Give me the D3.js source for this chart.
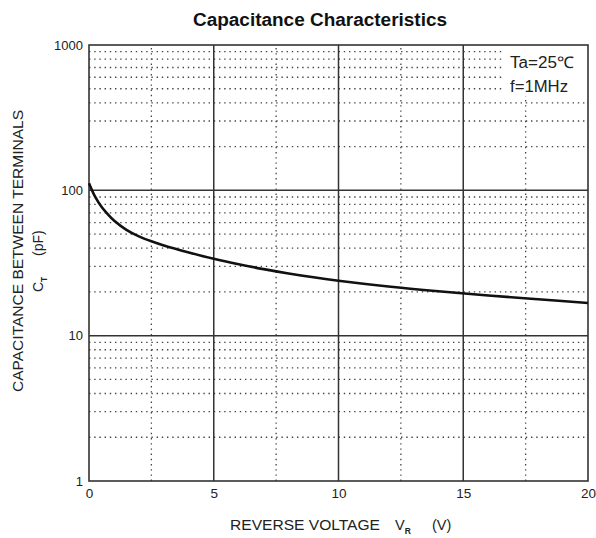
<!DOCTYPE html>
<html><head><meta charset="utf-8">
<script src="https://cdn.jsdelivr.net/npm/d3@7"></script>
<style>body{margin:0;background:#fff}svg{display:block;font-family:"Liberation Sans",Arial,sans-serif}</style>
</head><body><svg id="c" width="596" height="538"></svg>
<script>
const voltage = [0, 0.25, 0.5, 0.75, 1, 1.5, 2, 2.5, 3, 4, 5, 6, 7, 8, 9, 10, 12, 14, 16, 18, 20];
const capacitance = [112, 90, 77, 68.5, 62, 53.5, 48.2, 44.6, 41.8, 37.4, 33.8, 31, 28.7, 26.8, 25.2, 23.9, 21.8, 20.2, 18.9, 17.8, 16.8];
const xMajor = [0, 5, 10, 15, 20];
const xMinor = [2.5, 7.5, 12.5, 17.5];
const yMajor = [1, 10, 100, 1000];
const yMinorMult = [2, 3, 4, 5, 6, 7, 8, 9];
const title = "Capacitance Characteristics";
const legendLines = ["Ta=25\u2103", "f=1MHz"];

const svg = d3.select("#c");
const x = d3.scaleLinear().domain([0, 20]).range([89, 588]);
const y = d3.scaleLog().domain([1, 1000]).range([481, 45]);
const [x0, x1] = x.range(), [y0, y1] = y.range();

const yMinor = [];
[1, 10, 100].forEach(d => yMinorMult.forEach(m => yMinor.push(d * m)));
const g = svg.append("g");
g.selectAll(".hm").data(yMinor).join("line")
  .attr("x1", x0).attr("x2", x1).attr("y1", d => y(d)).attr("y2", d => y(d))
  .attr("stroke", "#444").attr("stroke-width", 1.3).attr("stroke-dasharray", "1.4 3.8");
g.selectAll(".vm").data(xMinor).join("line")
  .attr("x1", d => x(d)).attr("x2", d => x(d)).attr("y1", y0).attr("y2", y1)
  .attr("stroke", "#444").attr("stroke-width", 1.3).attr("stroke-dasharray", "1.4 3.8");

// white box behind legend
svg.append("rect").attr("x", x(16.55)).attr("y", y1 + 1).attr("width", x1 - x(16.55) - 1).attr("height", 50).attr("fill", "#fff");

g.append("g").selectAll("line").data(xMajor.slice(1, -1)).join("line")
  .attr("x1", d => x(d)).attr("x2", d => x(d)).attr("y1", y0).attr("y2", y1)
  .attr("stroke", "#333").attr("stroke-width", 1.5);
svg.append("g").selectAll("line").data(yMajor.slice(1, -1)).join("line")
  .attr("x1", x0).attr("x2", x1).attr("y1", d => y(d)).attr("y2", d => y(d))
  .attr("stroke", "#333").attr("stroke-width", 1.5);

svg.append("rect").attr("x", x0).attr("y", y1).attr("width", x1 - x0).attr("height", y0 - y1)
  .attr("fill", "none").attr("stroke", "#333").attr("stroke-width", 1.6);

const yAxis = d3.axisLeft(y).tickValues(yMajor).tickFormat(d3.format("d")).tickSize(0).tickPadding(6);
svg.append("g").attr("transform", `translate(${x0},0)`).call(yAxis)
  .call(s => s.select(".domain").remove())
  .selectAll("text").attr("font-size", 13).attr("fill", "#222").attr("font-family", "Liberation Sans, Arial, sans-serif");
const xAxis = d3.axisBottom(x).tickValues(xMajor).tickFormat(d3.format("d")).tickSize(0).tickPadding(7);
svg.append("g").attr("transform", `translate(0,${y0})`).call(xAxis)
  .call(s => s.select(".domain").remove())
  .selectAll("text").attr("font-size", 13.5).attr("fill", "#222").attr("font-family", "Liberation Sans, Arial, sans-serif");

const line = d3.line().x((d, i) => x(voltage[i])).y(d => y(d)).curve(d3.curveCatmullRom.alpha(0.5));
svg.append("path").datum(capacitance).attr("d", line)
  .attr("fill", "none").attr("stroke", "#111").attr("stroke-width", 2.6);

svg.append("text").attr("x", 193).attr("y", 26)
  .attr("font-size", 18).attr("font-weight", "bold").attr("fill", "#111")
  .attr("textLength", 254).attr("lengthAdjust", "spacingAndGlyphs").text(title);

svg.selectAll(".lg").data(legendLines).join("text")
  .attr("x", 510).attr("y", (d, i) => 68 + i * 24).attr("font-size", 16).attr("fill", "#222")
  .attr("textLength", (d, i) => i === 0 ? 64 : 58).attr("lengthAdjust", "spacingAndGlyphs").text(d => d);

const xl = svg.append("text").attr("x", 230).attr("y", 530).attr("font-size", 14.5).attr("fill", "#222");
xl.append("tspan").attr("textLength", 150).attr("lengthAdjust", "spacingAndGlyphs").text("REVERSE VOLTAGE");
xl.append("tspan").attr("x", 395).text("V");
xl.append("tspan").attr("dy", 4).attr("font-size", 8.5).attr("font-weight", "bold").text("R");
xl.append("tspan").attr("x", 432).attr("dy", -4).text("(V)");

svg.append("text").attr("transform", "translate(23,251) rotate(-90)").attr("text-anchor", "middle")
  .attr("font-size", 14.5).attr("fill", "#222")
  .attr("textLength", 282).attr("lengthAdjust", "spacingAndGlyphs").text("CAPACITANCE BETWEEN TERMINALS");
const yl = svg.append("text").attr("transform", "translate(43,0) rotate(-90)").attr("font-size", 14).attr("fill", "#222");
yl.append("tspan").attr("x", -292).text("C");
yl.append("tspan").attr("dy", 4).attr("font-size", 8.5).attr("font-weight", "bold").text("T");
yl.append("tspan").attr("x", -256).attr("dy", -4).text("(pF)");
</script></body></html>
